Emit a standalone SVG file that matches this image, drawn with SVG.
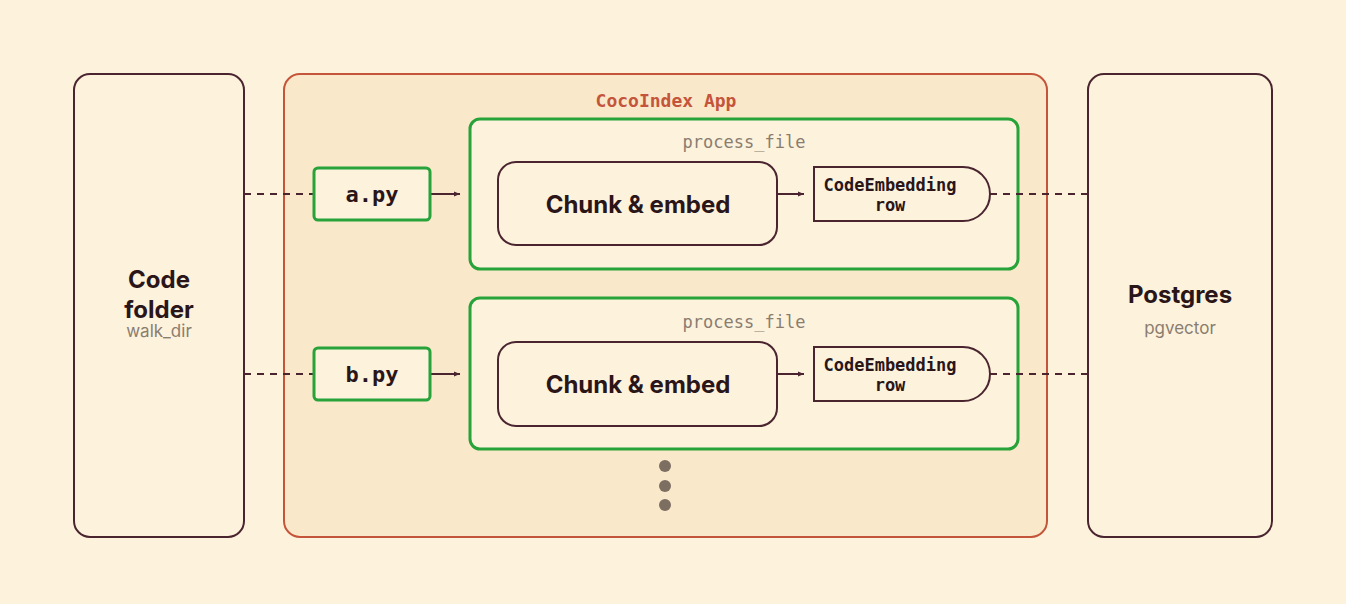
<svg xmlns="http://www.w3.org/2000/svg" width="1346" height="604" viewBox="0 0 1346 604">
<style>
.out{fill:#fdf2dc;stroke:#4a2530;stroke-width:2}
.grn{fill:#fdf2dc;stroke:#27a33a;stroke-width:3}
.big{font-family:Inter,"Liberation Sans",sans-serif;font-weight:700;fill:#2a1518;text-anchor:middle}
.sub{font-family:Inter,"Liberation Sans",sans-serif;font-size:17px;fill:#8a7d70;text-anchor:middle}
.mono{font-family:"DejaVu Sans Mono","Liberation Mono",monospace;text-anchor:middle}
.dash{stroke:#4a2530;stroke-width:2;stroke-dasharray:7 6;fill:none}
.arr{stroke:#4a2530;stroke-width:2;fill:none;marker-end:url(#ah)}
</style>
<defs><marker id="ah" viewBox="0 0 10 10" refX="10" refY="5" markerWidth="6" markerHeight="6" orient="auto" markerUnits="userSpaceOnUse"><path d="M0,1 L10,5 L0,9 z" fill="#4a2530"/></marker></defs>
<rect width="1346" height="604" fill="#fdf2dc"/>
<g id="folder"><rect class="out" x="74" y="74" width="170" height="463" rx="16"/>
<text class="big" x="159" y="288" font-size="24">Code</text><text class="big" x="159" y="318" font-size="24">folder</text><text class="sub" x="159" y="337">walk_dir</text></g>
<g id="app"><rect x="284" y="74" width="763" height="463" rx="16" fill="#fae8cb" stroke="#c4553a" stroke-width="2"/>
<text class="mono" x="666" y="107" font-size="18" font-weight="700" fill="#c4553a">CocoIndex App</text>
<circle cx="665" cy="466" r="6" fill="#7d6e62"/><circle cx="665" cy="486" r="6" fill="#7d6e62"/><circle cx="665" cy="505" r="6" fill="#7d6e62"/></g>
<g id="postgres"><rect class="out" x="1088" y="74" width="184" height="463" rx="16"/>
<text class="big" x="1180" y="303" font-size="24">Postgres</text><text class="sub" x="1180" y="334">pgvector</text></g>
<g id="pf1"><rect class="grn" x="470" y="119" width="548" height="150" rx="10"/><text class="mono" x="744" y="148" font-size="17" fill="#8a7d70">process_file</text></g>
<g id="pf2"><rect class="grn" x="470" y="298" width="548" height="151" rx="10"/><text class="mono" x="744" y="328" font-size="17" fill="#8a7d70">process_file</text></g>
<g id="connectors">
<path class="dash" d="M244,194H314M990,194H1088M244,374H314M990,374H1088"/>
<path class="arr" d="M430,194H460"/><path class="arr" d="M430,374H460"/>
<path class="arr" d="M777,194H804"/><path class="arr" d="M777,374H804"/>
</g>
<g id="apy"><rect class="grn" x="314" y="168" width="116" height="52" rx="4"/><text class="mono" x="372" y="202" font-size="22" font-weight="700" fill="#2a1518">a.py</text></g>
<g id="bpy"><rect class="grn" x="314" y="348" width="116" height="52" rx="4"/><text class="mono" x="372" y="382" font-size="22" font-weight="700" fill="#2a1518">b.py</text></g>
<g id="chunk1"><rect class="out" x="498" y="162" width="279" height="83" rx="18"/><text class="big" x="638" y="213" font-size="24">Chunk &amp; embed</text></g>
<g id="chunk2"><rect class="out" x="498" y="342" width="279" height="84" rx="18"/><text class="big" x="638" y="393" font-size="24">Chunk &amp; embed</text></g>
<g id="row1"><path class="out" d="M814,167H963A27,27 0 0 1 963,221H814Z"/><text class="mono" x="890" y="191" font-size="17" font-weight="700" fill="#2a1518">CodeEmbedding</text><text class="mono" x="890" y="211" font-size="17" font-weight="700" fill="#2a1518">row</text></g>
<g id="row2"><path class="out" d="M814,347H963A27,27 0 0 1 963,401H814Z"/><text class="mono" x="890" y="371" font-size="17" font-weight="700" fill="#2a1518">CodeEmbedding</text><text class="mono" x="890" y="391" font-size="17" font-weight="700" fill="#2a1518">row</text></g>
</svg>
